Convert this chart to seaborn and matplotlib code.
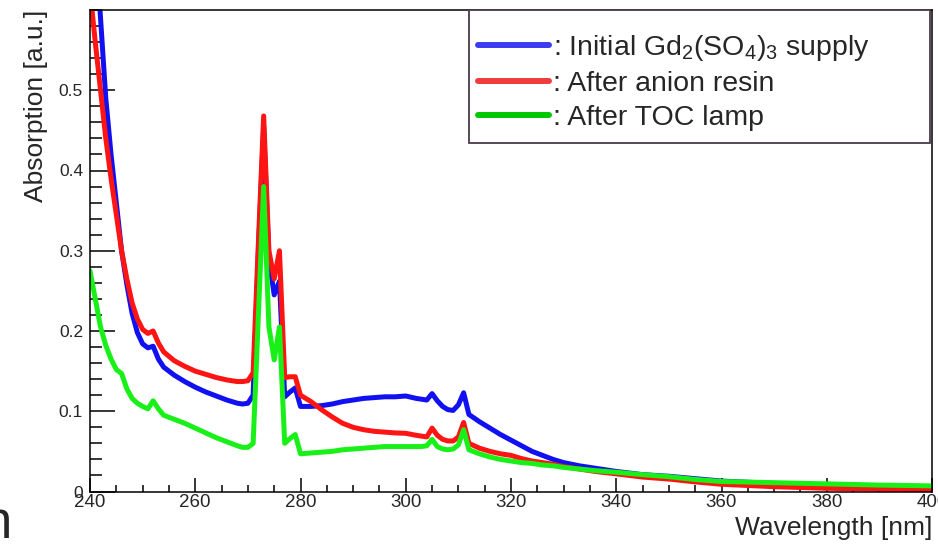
import numpy as np
import pandas as pd
import matplotlib
matplotlib.use("Agg")
import matplotlib.pyplot as plt
import matplotlib.ticker as mticker
from matplotlib.lines import Line2D
from matplotlib.patches import Rectangle
import seaborn as sns

# wavelength grid [nm] and absorption
wavelength = [240, 241, 242, 243, 244, 245, 246, 247, 248, 249, 250, 251, 252, 253, 254,
              256, 258, 260, 262, 264, 266, 268, 269, 270, 271, 272, 273, 274, 275, 276,
              277, 278, 279, 280, 282, 284, 286, 288, 290, 292, 294, 296, 298, 300, 302,
              303, 304, 305, 306, 307, 308, 309, 310, 311, 312, 314, 316, 318, 320, 322,
              324, 326, 328, 330, 333, 336, 340, 345, 350, 355, 360, 370, 380, 390, 400]

initial = [0.80, 0.69, 0.59, 0.49, 0.42, 0.36, 0.30, 0.258, 0.222, 0.198, 0.184, 0.179, 0.181, 0.165, 0.155,
           0.145, 0.137, 0.130, 0.124, 0.119, 0.114, 0.110, 0.109, 0.110, 0.120, 0.30, 0.455, 0.29, 0.245, 0.262,
           0.118, 0.124, 0.129, 0.106, 0.106, 0.107, 0.109, 0.112, 0.114, 0.116, 0.117, 0.118, 0.118, 0.119, 0.116,
           0.115, 0.114, 0.122, 0.113, 0.106, 0.102, 0.101, 0.108, 0.123, 0.096, 0.087, 0.079, 0.071, 0.064, 0.057,
           0.050, 0.045, 0.040, 0.036, 0.032, 0.029, 0.025, 0.021, 0.019, 0.016, 0.013, 0.010, 0.008, 0.006, 0.005]

anion = [0.625, 0.56, 0.50, 0.44, 0.39, 0.345, 0.30, 0.265, 0.235, 0.215, 0.202, 0.197, 0.200, 0.185, 0.174,
         0.163, 0.156, 0.150, 0.146, 0.142, 0.139, 0.137, 0.137, 0.138, 0.148, 0.31, 0.468, 0.30, 0.265, 0.300,
         0.142, 0.143, 0.143, 0.120, 0.112, 0.102, 0.093, 0.085, 0.080, 0.077, 0.075, 0.074, 0.073, 0.0725, 0.070,
         0.069, 0.068, 0.079, 0.070, 0.065, 0.063, 0.063, 0.068, 0.086, 0.060, 0.054, 0.050, 0.047, 0.045, 0.041,
         0.038, 0.036, 0.034, 0.031, 0.028, 0.025, 0.022, 0.018, 0.0155, 0.012, 0.009, 0.006, 0.004, 0.003, 0.002]

toc = [0.275, 0.24, 0.205, 0.182, 0.165, 0.152, 0.147, 0.128, 0.116, 0.110, 0.106, 0.103, 0.113, 0.103, 0.095,
       0.090, 0.085, 0.079, 0.073, 0.067, 0.062, 0.057, 0.055, 0.055, 0.060, 0.22, 0.380, 0.205, 0.164, 0.205,
       0.060, 0.066, 0.071, 0.047, 0.048, 0.049, 0.050, 0.052, 0.053, 0.054, 0.055, 0.056, 0.056, 0.056, 0.056,
       0.056, 0.057, 0.065, 0.056, 0.053, 0.052, 0.053, 0.058, 0.077, 0.052, 0.047, 0.043, 0.040, 0.038, 0.036,
       0.035, 0.033, 0.032, 0.030, 0.028, 0.026, 0.024, 0.021, 0.0185, 0.015, 0.0125, 0.011, 0.0095, 0.008, 0.007]

samples = ["initial", "anion", "toc"]
labels = [r": Initial Gd$_\mathregular{2}$(SO$_\mathregular{4}$)$_\mathregular{3}$ supply",
          ": After anion resin",
          ": After TOC lamp"]
line_colors = ["#1010f0", "#ff1414", "#18f018"]
legend_colors = ["#3c3cf0", "#f03c3c", "#00c800"]

df = pd.DataFrame({
    "wavelength": wavelength * 3,
    "absorption": initial + anion + toc,
    "sample": [s for s in samples for _ in wavelength],
})

sns.set_style("white")
plt.rcParams["font.family"] = ["Liberation Sans", "DejaVu Sans"]
plt.rcParams["mathtext.fontset"] = "custom"
plt.rcParams["mathtext.rm"] = "Liberation Sans"
plt.rcParams["mathtext.it"] = "Liberation Sans:italic"

fig = plt.figure(figsize=(9.38, 5.44), dpi=100)
ax = fig.add_axes([90 / 938, 1 - 491.5 / 544, 842 / 938, 481.5 / 544])

sns.lineplot(data=df, x="wavelength", y="absorption", hue="sample", hue_order=samples,
             palette=line_colors, linewidth=3.6, legend=False, ax=ax)

ax.set_xlim(240, 400)
ax.set_ylim(0, 0.6)
ax.xaxis.set_major_locator(mticker.MultipleLocator(20))
ax.xaxis.set_minor_locator(mticker.MultipleLocator(5))
ax.yaxis.set_major_locator(mticker.FixedLocator([0, 0.1, 0.2, 0.3, 0.4, 0.5]))
ax.yaxis.set_minor_locator(mticker.MultipleLocator(0.02))
ax.yaxis.set_major_formatter(mticker.FuncFormatter(lambda v, p: "0" if v == 0 else f"{v:.1f}"))

ax.tick_params(axis="both", which="both", direction="in", color="black", width=1.1,
               left=True, bottom=True, top=False, right=False)
ax.tick_params(axis="y", which="major", length=18, labelsize=12.5, pad=5)
ax.tick_params(axis="y", which="minor", length=8.6)
ax.tick_params(axis="x", which="major", length=10, labelsize=13.5, pad=2)
ax.tick_params(axis="x", which="minor", length=5)
for sp in ax.spines.values():
    sp.set_color("black")
    sp.set_linewidth(1.1)

ax.set_xlabel("Wavelength [nm]", fontsize=19, loc="right")
ax.set_ylabel("Absorption [a.u.]", fontsize=19, loc="top")
ax.xaxis.set_label_coords(1.0, -0.05)
ax.yaxis.set_label_coords(-0.05, 1.0)

# legend box (ROOT style) and entries
ax.add_patch(Rectangle((0.45, 0.724), 0.5476, 0.276, transform=ax.transAxes,
                       facecolor="white", edgecolor="#4a3a4a", linewidth=1.3,
                       zorder=4, clip_on=False))
handles = [Line2D([], [], color=c, linewidth=4.3) for c in legend_colors]
leg = ax.legend(handles, labels, loc="upper left", bbox_to_anchor=(0.4608, 0.952),
                borderaxespad=0, borderpad=0, frameon=False, fontsize=20.5,
                handlelength=2.5, handletextpad=0.12, labelspacing=0.28)
leg.set_zorder(5)

# fragment of a neighbouring label cut by the image edge
fig.text(-17 / 938, 6 / 544, "n", fontsize=38, va="baseline", ha="left")

fig.savefig("out.png", dpi=100)
